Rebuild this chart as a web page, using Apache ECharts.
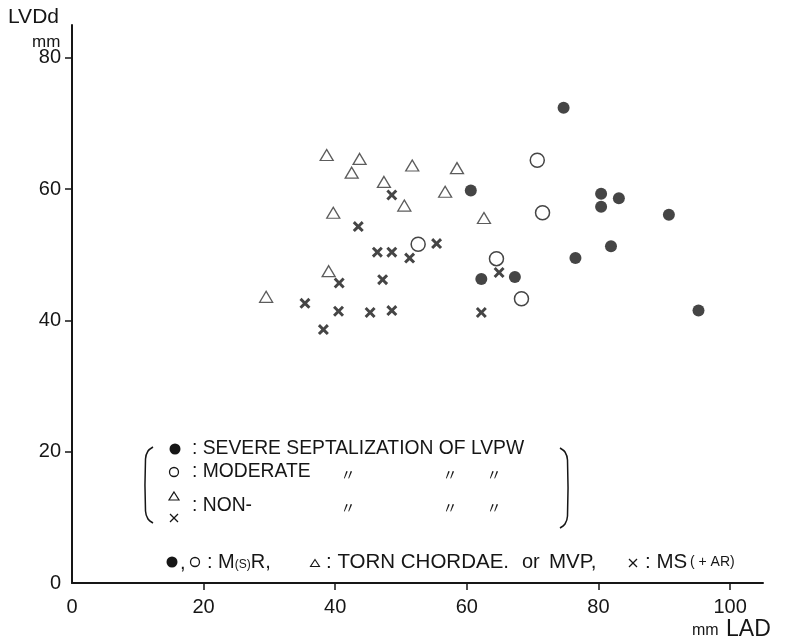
<!DOCTYPE html>
<html>
<head>
<meta charset="utf-8">
<script src="https://cdn.jsdelivr.net/npm/echarts@6/dist/echarts.min.js"></script>
<style>
html,body{margin:0;padding:0;background:#fff;}
#chart{width:793px;height:642px;}
</style>
</head>
<body>
<div id="chart"></div>
<script>
// ---- data (LAD mm, LVDd mm) ----
var severe = [[74.7,72.4],[60.6,59.8],[80.4,59.3],[80.4,57.3],[83.1,58.6],[90.7,56.1],[81.9,51.3],[76.5,49.5],[62.2,46.3],[67.3,46.6],[95.2,41.5]];
var moderate = [[52.6,51.6],[70.7,64.4],[71.5,56.4],[64.5,49.4],[68.3,43.3]];
var nonTorn = [[38.7,65.2],[43.7,64.6],[42.5,62.5],[51.7,63.6],[58.5,63.2],[47.4,61.1],[56.7,59.6],[50.5,57.5],[39.7,56.4],[62.6,55.6],[39.0,47.5],[29.5,43.6]];
var nonMS = [[48.6,59.1],[43.5,54.3],[55.4,51.7],[46.4,50.4],[48.6,50.4],[51.3,49.5],[40.6,45.7],[47.2,46.2],[64.9,47.3],[35.4,42.6],[40.5,41.4],[45.3,41.2],[48.6,41.5],[62.2,41.2],[38.2,38.6]];
var xTickLabels = [0,20,40,60,80,100];
var xTicks = [20,40,60,80,100];
var yTickLabels = [0,20,40,60,80];
var yTicks = [20,40,60,80];

var INK = '#161616';
var FONT = '"Liberation Sans", Arial, Helvetica, sans-serif';
var XPATH = 'path://M0,1.9L1.9,0L5,3.1L8.1,0L10,1.9L6.9,5L10,8.1L8.1,10L5,6.9L1.9,10L0,8.1L3.1,5Z';

function txt(x, y, s, size, extra) {
  var st = {text: s, fill: INK, font: size + 'px ' + FONT, verticalAlign: 'middle', align: 'left'};
  if (extra) for (var k in extra) st[k] = extra[k];
  return {type: 'text', x: x, y: y, style: st, silent: true};
}
function ditto(x, y) {
  return {type: 'text', x: x, y: y, style: {text: '\u3003', fill: INK, font: '15px "Noto Sans CJK JP"', align: 'center', verticalAlign: 'middle'}, silent: true};
}
function tri(cx, cy, w, h, lw) {
  return {type: 'polygon', shape: {points: [[cx, cy - h/2],[cx + w/2, cy + h/2],[cx - w/2, cy + h/2]]}, style: {fill: '#fff', stroke: INK, lineWidth: lw}, silent: true};
}
function cross(cx, cy, s, lw) {
  return [
    {type: 'line', shape: {x1: cx - s/2, y1: cy - s/2, x2: cx + s/2, y2: cy + s/2}, style: {stroke: INK, lineWidth: lw}, silent: true},
    {type: 'line', shape: {x1: cx + s/2, y1: cy - s/2, x2: cx - s/2, y2: cy + s/2}, style: {stroke: INK, lineWidth: lw}, silent: true}
  ];
}

var graphics = [
  txt(8, 17, 'LVDd', 21),
  txt(32, 42, 'mm', 17),
  txt(692, 631, 'mm', 16),
  txt(726, 630, 'LAD', 23),
  // bracketed legend
  {type: 'polyline', shape: {points: [[153,447],[148,451],[145.5,459],[145.5,511],[148,519],[153,523]], smooth: 0.3}, style: {stroke: INK, lineWidth: 1.5, fill: null}, silent: true},
  {type: 'polyline', shape: {points: [[560,448],[565,452],[567.5,460],[567.5,516],[565,524],[560,528]], smooth: 0.3}, style: {stroke: INK, lineWidth: 1.5, fill: null}, silent: true},
  {type: 'circle', shape: {cx: 175, cy: 449, r: 5.5}, style: {fill: INK}, silent: true},
  txt(192, 449, ': SEVERE SEPTALIZATION OF LVPW', 19.3),
  {type: 'circle', shape: {cx: 174, cy: 472, r: 4.5}, style: {fill: '#fff', stroke: INK, lineWidth: 1.3}, silent: true},
  txt(192, 472, ': MODERATE', 19.3),
  ditto(348, 474), ditto(450, 474), ditto(494, 474),
  tri(174, 496, 10, 8, 1.2),
  txt(192, 506, ': NON-', 19.3),
  ditto(348, 507), ditto(450, 507), ditto(494, 507),
  // bottom legend line
  {type: 'circle', shape: {cx: 172, cy: 562, r: 5.5}, style: {fill: INK}, silent: true},
  txt(180, 563, ',', 20),
  {type: 'circle', shape: {cx: 195, cy: 562, r: 4.5}, style: {fill: '#fff', stroke: INK, lineWidth: 1.3}, silent: true},
  {type: 'text', x: 207, y: 562, silent: true, style: {text: ': M{s|(S)}R,', fill: INK, font: '20px ' + FONT, verticalAlign: 'middle', align: 'left', rich: {s: {fontSize: 12, fontFamily: FONT, fill: INK, padding: [5, 0, 0, 0]}}}},
  tri(315, 563, 9, 7, 1.1),
  txt(326, 562, ': TORN CHORDAE.', 20.5),
  txt(522, 562, 'or', 20),
  txt(549, 562, 'MVP,', 20.5),
  txt(645, 562, ': MS', 20.5),
  txt(690, 562, '( + AR)', 14)
];
graphics = graphics.concat(cross(174, 518, 8, 1.3)).concat(cross(633, 563, 8, 1.3));

var chart = echarts.init(document.getElementById('chart'), null, {renderer: 'canvas'});
chart.setOption({
  backgroundColor: '#ffffff',
  animation: false,
  grid: {left: 72, right: 30, top: 25, bottom: 59, containLabel: false, outerBoundsMode: 'none'},
  xAxis: {
    type: 'value', min: 0, max: 105,
    axisLine: {show: true, onZero: false, lineStyle: {color: INK, width: 2}},
    axisTick: {show: true, inside: false, length: 7, customValues: xTicks, lineStyle: {color: INK, width: 1.5}},
    axisLabel: {customValues: xTickLabels, color: INK, fontSize: 20, fontFamily: FONT, margin: 14},
    splitLine: {show: false}
  },
  yAxis: {
    type: 'value', min: 0, max: 85,
    axisLine: {show: true, onZero: false, lineStyle: {color: INK, width: 2}},
    axisTick: {show: true, inside: false, length: 7, customValues: yTicks, lineStyle: {color: INK, width: 1.5}},
    axisLabel: {customValues: yTickLabels, color: INK, fontSize: 20, fontFamily: FONT, margin: 11},
    splitLine: {show: false}
  },
  series: [
    {name: 'non-triangle', type: 'scatter', data: nonTorn, symbol: 'triangle', symbolSize: [13, 11],
      itemStyle: {color: '#fff', borderColor: '#333', borderWidth: 1.3}},
    {name: 'non-x', type: 'scatter', data: nonMS, symbol: XPATH, symbolSize: 11,
      itemStyle: {color: INK}},
    {name: 'moderate', type: 'scatter', data: moderate, symbol: 'circle', symbolSize: 14,
      itemStyle: {color: '#fff', borderColor: INK, borderWidth: 1.5}},
    {name: 'severe', type: 'scatter', data: severe, symbol: 'circle', symbolSize: 12,
      itemStyle: {color: INK}}
  ],
  graphic: graphics
});
</script>
</body>
</html>
